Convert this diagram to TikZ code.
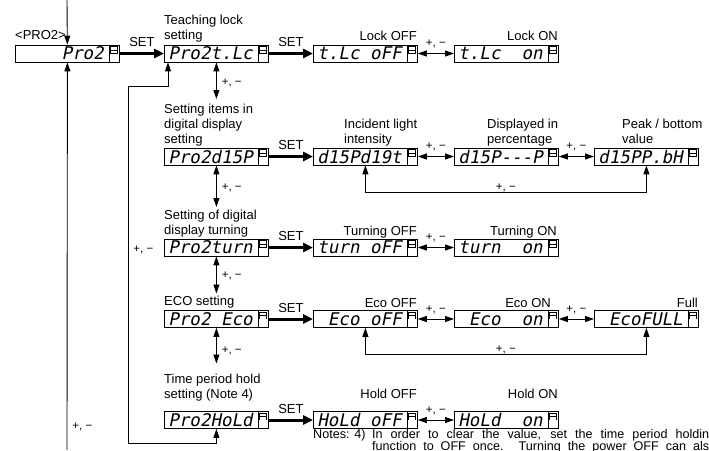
\documentclass[tikz,border=0pt]{standalone}
\usepackage{fontspec}
\setmainfont{Liberation Sans}
\newfontfamily\lcdfont{DejaVu Sans Mono}[FakeSlant=0.2]
\usepackage{tikz}
\usetikzlibrary{arrows.meta,calc,positioning}
\newcommand\lcdgap{\hphantom{0}}

\begin{document}
\begin{tikzpicture}[
    x=1pt, y=-1pt,
    every node/.style={font=\fontsize{13}{15}\selectfont},
    lcd/.style={draw, line width=0.8pt, fill=white, anchor=west,
      text width=96pt, inner xsep=4pt, inner ysep=0pt, minimum height=17pt,
      align=left, font=\lcdfont\fontsize{17.5}{17.5}\selectfont,
      path picture={
        \draw[line width=0.8pt]
          ([xshift=-10.5pt]path picture bounding box.north east) --
          ([xshift=-10.5pt]path picture bounding box.south east);
        \draw[line width=0.7pt]
          ([xshift=-8.8pt,yshift=-1.6pt]path picture bounding box.north east) rectangle
          ([xshift=-2pt,yshift=-5.3pt]path picture bounding box.north east);
        \draw[line width=0.7pt]
          ([xshift=-8.8pt,yshift=-5.3pt]path picture bounding box.north east) rectangle
          ([xshift=-2pt,yshift=-8.8pt]path picture bounding box.north east);
        \fill
          ([xshift=-9.2pt,yshift=-8.8pt]path picture bounding box.north east) rectangle
          ([xshift=-1.6pt,yshift=1.4pt]path picture bounding box.south east);
      }},
    ttl/.style={anchor=north west, align=left, inner sep=0pt},
    val/.style={anchor=base east, inner sep=0pt},
    setl/.style={anchor=base, yshift=7pt, inner sep=0pt},
    pml/.style={anchor=base, yshift=7pt, inner sep=0pt, font=\fontsize{11.5}{12}\selectfont},
    pmr/.style={anchor=west, xshift=5pt, inner sep=0pt, font=\fontsize{11.5}{12}\selectfont},
    pmb/.style={anchor=base, yshift=2pt, inner sep=0pt, font=\fontsize{11.5}{12}\selectfont},
    note/.style={anchor=base west, inner sep=0pt, font=\fontsize{12.6}{12}\selectfont},
    setarr/.style={-{Triangle[length=10pt, width=9pt]}, line width=3pt},
    arr/.style={-{Triangle[length=9pt, width=6pt]}, line width=0.9pt},
    dbl/.style={{Triangle[length=9pt, width=6pt]}-{Triangle[length=9pt, width=6pt]}, line width=0.9pt},
  ]
  \useasboundingbox (0,0) rectangle (709,450);

  % ── Displays ─────────────────────────────────────────────────────────────

  % Teaching lock
  \node[lcd] (pro2)    at ( 15, 53.5) {\lcdgap\lcdgap\lcdgap\lcdgap Pro2};
  \node[lcd] (lock)    at (164, 53.5) {Pro2t.Lc};
  \node[lcd] (lockoff) at (313, 53.5) {t.Lc\lcdgap oFF};
  \node[lcd] (lockon)  at (454, 53.5) {t.Lc\lcdgap\lcdgap on};

  % Digital display
  \node[lcd] (disp)    at (164,156.5) {Pro2d15P};
  \node[lcd] (dlight)  at (313,156.5) {d15Pd19t};
  \node[lcd] (dpct)    at (454,156.5) {d15P-{}-{}-P};
  \node[lcd] (dpeak)   at (594,156.5) {d15PP.bH};

  % Display turning
  \node[lcd] (turn)    at (164,247.5) {Pro2turn};
  \node[lcd] (turnoff) at (313,247.5) {turn\lcdgap oFF};
  \node[lcd] (turnon)  at (454,247.5) {turn\lcdgap\lcdgap on};

  % ECO
  \node[lcd] (eco)     at (164,319)   {Pro2\lcdgap Eco};
  \node[lcd] (ecooff)  at (313,319)   {\lcdgap Eco\lcdgap oFF};
  \node[lcd] (ecoon)   at (454,319)   {\lcdgap Eco\lcdgap\lcdgap on};
  \node[lcd] (ecofull) at (594,319)   {\lcdgap EcoFULL};

  % Time period hold
  \node[lcd] (hold)    at (164,420)   {Pro2HoLd};
  \node[lcd] (holdoff) at (313,420)   {HoLd\lcdgap oFF};
  \node[lcd] (holdon)  at (454,420)   {HoLd\lcdgap\lcdgap on};

  % ── Titles ───────────────────────────────────────────────────────────────

  \node[anchor=base west, inner sep=0pt] (pro2ttl) at (15,39) {<PRO2>};
  \node[ttl] (lockttl) at (164, 14.5) {Teaching lock\\setting};
  \node[ttl] (dispttl) at (164,103.5) {Setting items in\\digital display\\setting};
  \node[ttl] (turnttl) at (164,210)   {Setting of digital\\display turning};
  \node[ttl] (ecottl)  at (164,295.5) {ECO setting};
  \node[ttl] (holdttl) at (164,373.5) {Time period hold\\setting (Note 4)};

  \node[val] at (417, 40) {Lock OFF};
  \node[val] at (558, 40) {Lock ON};
  \node[ttl] at (344,118.5) {Incident light\\intensity};
  \node[ttl] at (487,118.5) {Displayed in\\percentage};
  \node[ttl] at (622,118.5) {Peak / bottom\\value};
  \node[val] at (417,235) {Turning OFF};
  \node[val] at (557,235) {Turning ON};
  \node[val] at (417,307) {Eco OFF};
  \node[val] at (551,307) {Eco ON};
  \node[val] at (698,307) {Full};
  \node[val] at (417,398) {Hold OFF};
  \node[val] at (558,398) {Hold ON};

  % ── Connectors ───────────────────────────────────────────────────────────

  \coordinate (intop)  at ( 67,  0);
  \coordinate (inbot)  at ( 67,450);
  \coordinate (holdbl) at (128,443);
  \coordinate (holdtl) at (128, 86);

  \draw[arr] (intop) -- (pro2);
  \draw[arr] (inbot) -- node[pmr, pos=0.06] {+, −} (pro2);

  % SET
  \draw[setarr] (pro2) -- node[setl] {SET} (lock);
  \draw[setarr] (lock) -- node[setl] {SET} (lockoff);
  \draw[setarr] (disp) -- node[setl] {SET} (dlight);
  \draw[setarr] (turn) -- node[setl] {SET} (turnoff);
  \draw[setarr] (eco)  -- node[setl] {SET} (ecooff);
  \draw[setarr] (hold) -- node[setl] {SET} (holdoff);

  % +, − along each row
  \draw[dbl] (lockoff) -- node[pml] {+, −} (lockon);
  \draw[dbl] (dlight)  -- node[pml] {+, −} (dpct);
  \draw[dbl] (dpct)    -- node[pml] {+, −} (dpeak);
  \draw[dbl] (turnoff) -- node[pml] {+, −} (turnon);
  \draw[dbl] (ecooff)  -- node[pml] {+, −} (ecoon);
  \draw[dbl] (ecoon)   -- node[pml] {+, −} (ecofull);
  \draw[dbl] (holdoff) -- node[pml] {+, −} (holdon);

  \draw[dbl] (dlight.south) -- ++(0,27) -| node[pmb, pos=0.25] {+, −} (dpeak.south);
  \draw[dbl] (ecooff.south) -- ++(0,27) -| node[pmb, pos=0.25] {+, −} (ecofull.south);

  % +, − down the items
  \draw[dbl, shorten >=4.5pt] (lock) -- node[pmr] {+, −} (lock |- dispttl.north);
  \draw[dbl, shorten >=3pt]   (disp) -- node[pmr] {+, −} (disp |- turnttl.north);
  \draw[dbl, shorten >=2pt]   (turn) -- node[pmr] {+, −} (turn |- ecottl.north);
  \draw[dbl, shorten >=10pt]  (eco)  -- node[pmr] {+, −} (eco |- holdttl.north);

  \draw[dbl] (hold.south) |- (holdbl) -- node[pmr, pos=0.54] {+, −} (holdtl)
    -| ([xshift=4pt]lock.south west);

  % ── Note ─────────────────────────────────────────────────────────────────

  \node[note] (notehd) at (313,438.5) {Notes: 4)};
  \node[note] (notetxt) at (372,438.5) {\parbox[t]{337pt}{\lineskiplimit=-6pt
    \makebox[337pt][s]{In order to clear the value, set the time period holdin}\\
    \makebox[337pt][s]{function to OFF once. Turning the power OFF can als}}};

\end{tikzpicture}
\end{document}
